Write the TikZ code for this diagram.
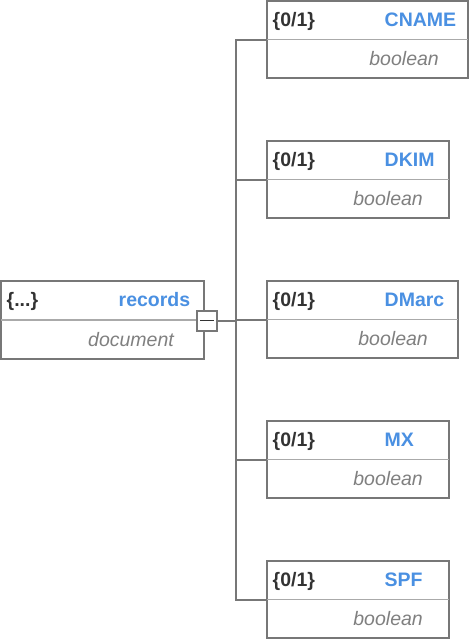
\documentclass[tikz,border=0pt]{standalone}
\usepackage{fontspec}
\setmainfont{Liberation Sans}
\usetikzlibrary{positioning}
\definecolor{framegray}{HTML}{777777}
\definecolor{rulegray}{HTML}{AAAAAA}
\definecolor{keyblue}{HTML}{4A90E2}
\definecolor{cardgray}{HTML}{333333}
\definecolor{typegray}{HTML}{808080}
\newcommand{\objcard}{\{...\}}
\newcommand{\optcard}{\{0/1\}}
\tikzstyle{field} = [rectangle, draw=framegray, line width=2pt, fill=white,
    minimum width=182pt, minimum height=77pt, inner sep=0pt, anchor=west]
\tikzstyle{toggle} = [rectangle, draw=framegray, line width=2pt, fill=white,
    minimum size=20pt, inner sep=0pt]
\tikzstyle{card} = [anchor=base west, inner sep=0pt, text=cardgray,
    font=\fontsize{19.5}{23}\selectfont\bfseries]
\tikzstyle{keyname} = [anchor=base west, inner sep=0pt, text=keyblue,
    font=\fontsize{19.5}{23}\selectfont\bfseries]
\tikzstyle{typename} = [anchor=base east, inner sep=0pt, text=typegray,
    font=\fontsize{19.5}{23}\selectfont\itshape]
\tikzstyle{divider} = [draw=rulegray, line width=1.5pt, shorten <=1pt, shorten >=1pt]
\tikzstyle{line} = [draw=framegray, line width=2pt]

\begin{document}
\begin{tikzpicture}[x=1pt, y=-1pt]
    \useasboundingbox (0,0) rectangle (472,640);
    % Place nodes
    \node [field, minimum width=203pt, minimum height=78pt] (records) at (0,320) {};
    \node [field, minimum width=201pt] (cname) at (266,39.5) {};
    \node [field, below=140pt of cname.west, anchor=west] (dkim) {};
    \node [field, below=140pt of dkim.west, anchor=west, minimum width=191pt] (dmarc) {};
    \node [field, below=140pt of dmarc.west, anchor=west] (mx) {};
    \node [field, below=140pt of mx.west, anchor=west] (spf) {};
    \coordinate (trunk) at (236,320.5);

    % Texts of the fields
    \foreach \f/\c/\k/\t/\r in {records/\objcard/records/document/174,
        cname/\optcard/CNAME/boolean/173, dkim/\optcard/DKIM/boolean/157,
        dmarc/\optcard/DMarc/boolean/162, mx/\optcard/MX/boolean/157,
        spf/\optcard/SPF/boolean/157} {
      \path [divider] (\f.west) -- (\f.east);
      \node [card] (\f-card) at ([xshift=6.5pt, yshift=-26.5pt]\f.north west) {\c};
      \node [keyname] (\f-key) at ([xshift=118.5pt, yshift=-26.5pt]\f.north west) {\k};
      \node [typename] (\f-type) at ([xshift=\r pt, yshift=13.5pt]\f.south west) {\t};
    }

    % Collapse button
    \node [toggle] (collapse) at (207,320.5) {};
    \path [draw=cardgray, line width=1.5pt] ([xshift=4pt]collapse.west) -- ([xshift=-4pt]collapse.east);

    % Draw edges
    \path [line] (collapse) -- (trunk);
    \foreach \f in {cname, dkim, dmarc, mx, spf}
      \path [line] (trunk) |- (\f.west);
\end{tikzpicture}
\end{document}
